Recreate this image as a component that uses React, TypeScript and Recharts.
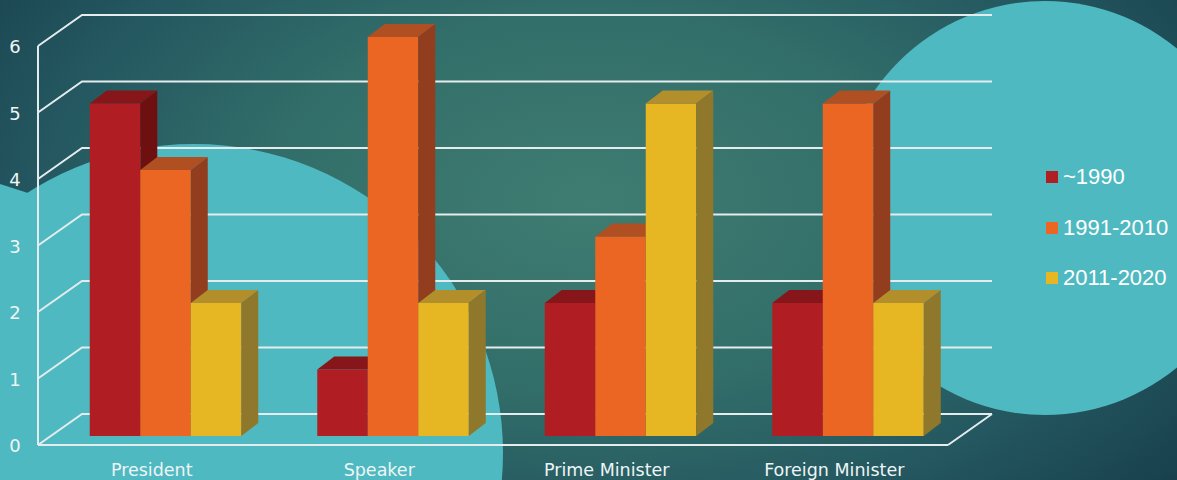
import React from 'react';
import { BarChart, Bar, XAxis, YAxis, CartesianGrid } from 'recharts';

const categories = ['President', 'Speaker', 'Prime Minister', 'Foreign Minister'];
const upTo1990 = [5, 1, 2, 2];
const from1991to2010 = [4, 6, 3, 5];
const from2011to2020 = [2, 2, 5, 2];
const yTicks = [0, 1, 2, 3, 4, 5, 6];

const seriesNames = ['~1990', '1991-2010', '2011-2020'];
const frontColors = ['#b01e24', '#eb6622', '#e6b623'];
const topColors = ['#86161a', '#b04f22', '#b38f2c'];
const sideColors = ['#6e0f10', '#923d1e', '#8f772b'];

const data = categories.map((c, i) => ({
  name: c,
  a: upTo1990[i],
  b: from1991to2010[i],
  c: from2011to2020[i],
}));

const W = 1177;
const H = 480;
const X_AXIS_H = 30;
const MARGIN = { top: 46, right: 229, bottom: 5, left: 0 };
const PLOT_BOTTOM = H - MARGIN.bottom - X_AXIS_H;
const DEPTH_X = 44;
const DEPTH_Y = 31;
const BAR_SHIFT_X = 13.75;
const BAR_SHIFT_Y = -9;
const BAR_DX = 17;
const BAR_DY = 13;
const GRID = '#e4ecee';
const TEXT = '#eef5f5';
const FONT = '"DejaVu Sans", sans-serif';

const makeShape = (front: string, top: string, side: string) => (props: any) => {
  const { x, y, width, height } = props;
  if (width == null || height == null) return <g />;
  const X = x + BAR_SHIFT_X;
  const Y = y + BAR_SHIFT_Y;
  const B = Y + height;
  return (
    <g>
      <rect x={X} y={Y} width={width} height={height} fill={front} />
      <polygon
        points={`${X},${Y} ${X + width},${Y} ${X + width + BAR_DX},${Y - BAR_DY} ${X + BAR_DX},${Y - BAR_DY}`}
        fill={top}
      />
      <polygon
        points={`${X + width},${Y} ${X + width + BAR_DX},${Y - BAR_DY} ${X + width + BAR_DX},${B - BAR_DY} ${X + width},${B}`}
        fill={side}
      />
    </g>
  );
};

const gridLine = (p: any) => {
  const { x1, x2, y1, index } = p;
  const isFloor = Math.abs(y1 - PLOT_BOTTOM) < 1;
  return (
    <g key={`h-${index}`}>
      <path
        d={`M${x1},${y1} L${x1 + DEPTH_X},${y1 - DEPTH_Y} L${x2 + DEPTH_X},${y1 - DEPTH_Y}`}
        stroke={GRID}
        strokeWidth={2}
        fill="none"
      />
      {isFloor && (
        <path d={`M${x2},${y1} L${x2 + DEPTH_X},${y1 - DEPTH_Y}`} stroke={GRID} strokeWidth={2} fill="none" />
      )}
    </g>
  );
};

const YTick = (props: any) => {
  const { y, payload } = props;
  return (
    <text x={15} y={y + 7} textAnchor="middle" fill={TEXT} fontSize={18} fontFamily={FONT}>
      {payload.value}
    </text>
  );
};

const XTick = (props: any) => {
  const { x, y, payload } = props;
  return (
    <text x={x} y={y + 31} textAnchor="middle" fill={TEXT} fontSize={17.5} fontFamily={FONT}>
      {payload.value}
    </text>
  );
};

const keys = ['a', 'b', 'c'];

export default function App() {
  return (
    <div
      style={{
        position: 'absolute',
        left: 0,
        top: 0,
        width: W,
        height: H,
        overflow: 'hidden',
        background:
          'radial-gradient(ellipse 65% 95% at 50% 42%, #3f7c71 0%, #336f6a 40%, #245760 72%, #173f4b 100%)',
      }}
    >
      <div
        style={{
          position: 'absolute',
          left: 194 - 309,
          top: 453 - 309,
          width: 618,
          height: 618,
          borderRadius: '50%',
          background: '#4fb9c1',
        }}
      />
      <svg style={{ position: 'absolute', left: 0, top: 0 }} width={W} height={H}>
        <polygon points="0,184 28,193 40,260 0,260" fill="#4fb9c1" />
      </svg>
      <div
        style={{
          position: 'absolute',
          left: 1045 - 207,
          top: 208 - 207,
          width: 414,
          height: 414,
          borderRadius: '50%',
          background: '#4fb9c1',
        }}
      />
      <div style={{ position: 'absolute', left: 0, top: 0 }}>
        <BarChart width={W} height={H} data={data} margin={MARGIN} barGap={0} barSize={50.5}>
          <CartesianGrid horizontal={gridLine} vertical={false} />
          <XAxis
            dataKey="name"
            height={X_AXIS_H}
            axisLine={{ stroke: GRID, strokeWidth: 2 }}
            tickLine={false}
            tickSize={0}
            tickMargin={0}
            tick={<XTick />}
            interval={0}
          />
          <YAxis
            width={38}
            domain={[0, 6]}
            ticks={yTicks}
            axisLine={{ stroke: GRID, strokeWidth: 2 }}
            tickLine={false}
            tick={<YTick />}
          />
          {keys.map((k, i) => (
            <Bar
              key={k}
              dataKey={k}
              name={seriesNames[i]}
              fill={frontColors[i]}
              isAnimationActive={false}
              shape={makeShape(frontColors[i], topColors[i], sideColors[i])}
            />
          ))}
        </BarChart>
      </div>
      <div style={{ position: 'absolute', left: 1046, top: 152, width: 131 }}>
        {seriesNames.map((n, i) => (
          <div key={n} style={{ display: 'flex', alignItems: 'center', height: 50.5 }}>
            <div style={{ width: 12, height: 12, background: frontColors[i], marginRight: 5 }} />
            <span style={{ color: '#ffffff', fontSize: 22, fontFamily: '"Liberation Sans", Arial, sans-serif' }}>
              {n}
            </span>
          </div>
        ))}
      </div>
    </div>
  );
}
